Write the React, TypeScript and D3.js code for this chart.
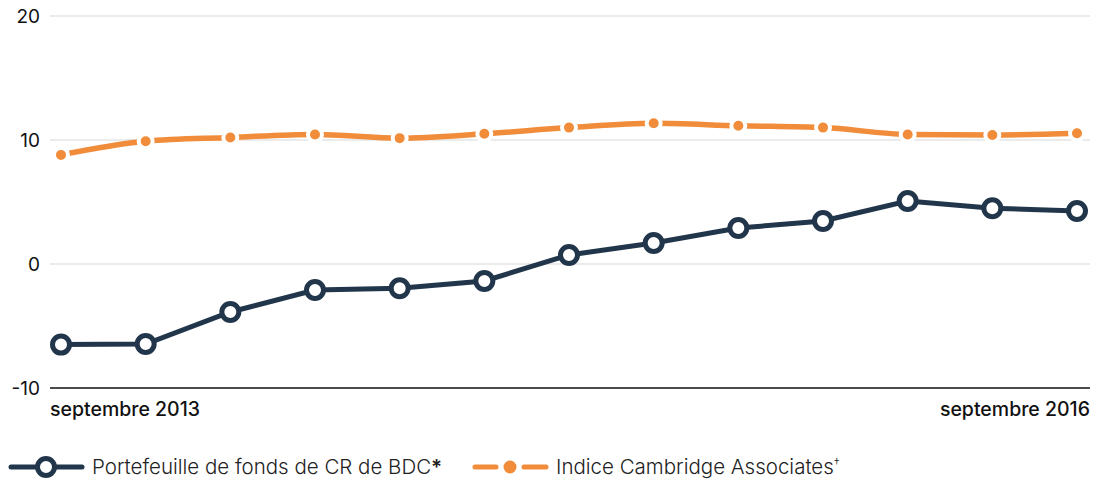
import React from "react";
import * as d3 from "d3";

const periods = ["2013-09","2013-12","2014-03","2014-06","2014-09","2014-12","2015-03","2015-06","2015-09","2015-12","2016-03","2016-06","2016-09"];
const bdcValues = [-6.5, -6.45, -3.87, -2.1, -1.95, -1.37, 0.73, 1.69, 2.9, 3.47, 5.08, 4.5, 4.27];
const cambridgeValues = [8.8, 9.9, 10.2, 10.45, 10.15, 10.5, 11.0, 11.35, 11.15, 11.0, 10.45, 10.4, 10.55];
const yTicks = [-10, 0, 10, 20];
const xLabels = ["septembre 2013", "septembre 2016"];
const seriesNames = ["Portefeuille de fonds de CR de BDC", "Indice Cambridge Associates"];

const DARK = "#22364b";
const ORANGE = "#f08c3a";
const FONT = "Inter, 'Noto Sans', sans-serif";

export default function App() {
  const W = 1106, H = 482;
  const x = d3.scalePoint<string>().domain(periods).range([61, 1077]);
  const y = d3.scaleLinear().domain([-10, 20]).range([388, 16]);
  const lineDark = d3.line<number>().x((_, i) => x(periods[i])!).y(d => y(d));
  const lineOrange = d3.line<number>().x((_, i) => x(periods[i])!).y(d => y(d)).curve(d3.curveMonotoneX);

  return (
    <svg width={W} height={H} style={{ position: "absolute", left: 0, top: 0 }} fontFamily={FONT}>
      {yTicks.map(t => (
        <g key={t}>
          {t !== -10 && <line x1={50} x2={1090} y1={y(t)} y2={y(t)} stroke="#e4e4e4" strokeWidth={1.5} />}
          <text x={40} y={y(t)} dy="0.35em" textAnchor="end" fontSize={19} fill="#111">{t}</text>
        </g>
      ))}
      <line x1={50} x2={1090} y1={y(-10)} y2={y(-10)} stroke="#111" strokeWidth={1.5} />
      <text x={50} y={416} fontSize={19.5} fontWeight={500} fill="#111">{xLabels[0]}</text>
      <text x={1090} y={416} fontSize={19.5} fontWeight={500} fill="#111" textAnchor="end">{xLabels[1]}</text>

      <path d={lineOrange(cambridgeValues)!} fill="none" stroke={ORANGE} strokeWidth={5.5} />
      {cambridgeValues.map((v, i) => (
        <circle key={i} cx={x(periods[i])} cy={y(v)} r={7} fill={ORANGE} stroke="#fff" strokeWidth={4} />
      ))}
      <path d={lineDark(bdcValues)!} fill="none" stroke={DARK} strokeWidth={5} />
      {bdcValues.map((v, i) => (
        <circle key={i} cx={x(periods[i])} cy={y(v)} r={8.5} fill="#fff" stroke={DARK} strokeWidth={5} />
      ))}

      <g>
        <line x1={11} x2={82} y1={467} y2={467} stroke={DARK} strokeWidth={5} strokeLinecap="round" />
        <circle cx={46} cy={467} r={8.5} fill="#fff" stroke={DARK} strokeWidth={5} />
        <text x={92} y={467} dy="0.35em" fontSize={20.5} fontWeight={300} fill="#222">
          {seriesNames[0]}<tspan fontWeight={600}>*</tspan>
        </text>
      </g>
      <g>
        <line x1={475} x2={496} y1={467} y2={467} stroke={ORANGE} strokeWidth={5} strokeLinecap="round" />
        <line x1={524} x2={546} y1={467} y2={467} stroke={ORANGE} strokeWidth={5} strokeLinecap="round" />
        <circle cx={510} cy={467} r={6.5} fill={ORANGE} />
        <text x={556} y={467} dy="0.35em" fontSize={20.5} fontWeight={300} fill="#222">
          {seriesNames[1]}<tspan fontSize={12} dy="-0.6em">†</tspan>
        </text>
      </g>
    </svg>
  );
}
